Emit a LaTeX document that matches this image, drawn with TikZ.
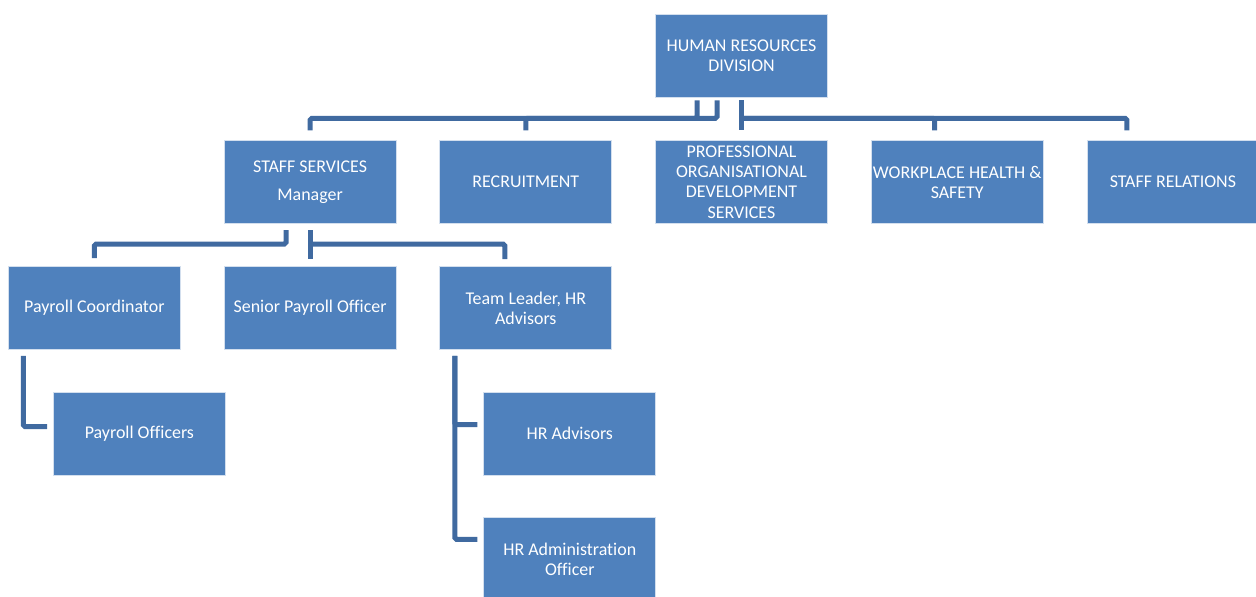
\documentclass[tikz,border=0pt]{standalone}
\usepackage{fontspec}
\setmainfont[Ligatures=NoCommon]{Carlito}
\usepackage{tikz}
\usetikzlibrary{positioning,calc}
\definecolor{hrblue}{RGB}{79,129,189}
\definecolor{hrline}{RGB}{64,106,160}

\begin{document}
\begin{tikzpicture}[
    node distance=0.86cm,
    box/.style={fill=hrblue, draw=white!75!hrblue, line width=0.4pt, text=white, minimum height=1.66cm, minimum width=3.44cm, inner sep=0pt, align=center, font=\fontsize{10.2}{11.4}\selectfont},
    link/.style={line width=0.1cm, hrline, rounded corners=1pt}
]
\useasboundingbox (0,0) rectangle (25.12,-11.92);
\node[box] (hr) at (14.83,-1.11) {HUMAN RESOURCES\\DIVISION};
\node[box, below=of hr] (prof) {PROFESSIONAL\\ORGANISATIONAL\\DEVELOPMENT\\SERVICES};
\node[box, left=of prof] (recruit) {RECRUITMENT};
\node[box, left=of recruit] (staff) {STAFF SERVICES\\[0.16cm]Manager};
\node[box, right=of prof] (whs) {WORKPLACE HEALTH \&\\SAFETY};
\node[box, right=of whs] (relations) {STAFF RELATIONS};
\node[box, below=0.84cm of staff] (senior) {Senior Payroll Officer};
\node[box, left=of senior] (coord) {Payroll Coordinator};
\node[box, right=of senior] (leader) {Team Leader, HR\\Advisors};
\node[box, below=0.84cm of coord, xshift=0.9cm] (officers) {Payroll Officers};
\node[box, below=0.84cm of leader, xshift=0.88cm] (advisors) {HR Advisors};
\node[box, below=0.84cm of advisors] (admin) {HR Administration\\Officer};

\draw[link] ([xshift=-0.89cm,yshift=-0.06cm]hr.south) -- ++(0,-0.36) -| ([yshift=0.2cm]staff.north);
\draw[link] ([xshift=-0.49cm,yshift=-0.06cm]hr.south) -- ++(0,-0.36) -| ([yshift=0.2cm]recruit.north);
\draw[link] ([yshift=-0.06cm]hr.south) -- ([yshift=0.2cm]prof.north);
\draw[link] ([yshift=-0.42cm]hr.south) -| ([xshift=-0.45cm,yshift=0.2cm]whs.north);
\draw[link] ([yshift=-0.42cm]hr.south) -| ([xshift=-0.92cm,yshift=0.2cm]relations.north);

\draw[link] ([xshift=-0.48cm,yshift=-0.12cm]staff.south) -- ++(0,-0.28) -| ([yshift=0.16cm]coord.north);
\draw[link] ([yshift=-0.12cm]staff.south) -- ([yshift=0.14cm]senior.north);
\draw[link] ([yshift=-0.4cm]staff.south) -| ([xshift=-0.42cm,yshift=0.14cm]leader.north);

\draw[link] ([xshift=-1.42cm,yshift=-0.12cm]coord.south) |- ([xshift=-0.12cm,yshift=0.14cm]officers.west);
\draw[link] ([xshift=-1.42cm,yshift=-0.12cm]leader.south) |- ([xshift=-0.12cm,yshift=0.18cm]advisors.west);
\draw[link] ([xshift=-1.42cm,yshift=-0.12cm]leader.south) |- ([xshift=-0.12cm,yshift=0.4cm]admin.west);
\end{tikzpicture}
\end{document}
